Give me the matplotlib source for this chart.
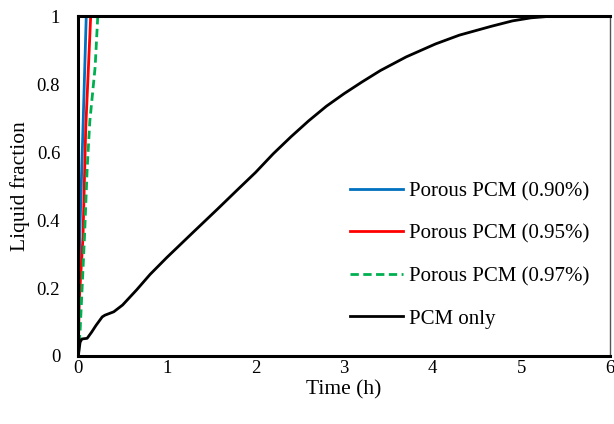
import matplotlib
matplotlib.use("Agg")
import matplotlib.pyplot as plt

plt.rcParams['font.family'] = ['Liberation Serif', 'DejaVu Serif']

# Liquid fraction vs. time for each configuration
t_090 = [0, 0.005, 0.016, 0.053, 0.09, 6]
lf_090 = [0, 0.15, 0.35, 0.67, 1.0, 1.0]

t_095 = [0, 0.01, 0.053, 0.084, 0.14, 6]
lf_095 = [0, 0.16, 0.35, 0.67, 1.0, 1.0]

t_097 = [0, 0.02, 0.07, 0.10, 0.13, 0.19, 0.22, 6]
lf_097 = [0, 0.07, 0.35, 0.55, 0.69, 0.85, 1.0, 1.0]

t_pcm = [0, 0.02, 0.04, 0.1, 0.15, 0.2, 0.27, 0.3, 0.35, 0.4, 0.5, 0.66,
         0.81, 1.0, 1.12, 1.3, 1.57, 1.8, 2.0, 2.2, 2.4, 2.6, 2.8, 3.0,
         3.2, 3.41, 3.7, 4.03, 4.3, 4.66, 4.9, 5.11, 5.3, 5.5, 6]
lf_pcm = [0, 0.04, 0.05, 0.052, 0.07, 0.09, 0.115, 0.12, 0.125, 0.13, 0.15,
          0.195, 0.24, 0.29, 0.32, 0.365, 0.432, 0.49, 0.54, 0.595, 0.645,
          0.692, 0.735, 0.772, 0.806, 0.84, 0.88, 0.918, 0.944, 0.97, 0.986,
          0.995, 0.999, 1.0, 1.0]

labels = ["Porous PCM (0.90%)", "Porous PCM (0.95%)",
          "Porous PCM (0.97%)", "PCM only"]
x_ticks = [0, 1, 2, 3, 4, 5, 6]
y_ticks = [0, 0.2, 0.4, 0.6, 0.8, 1.0]
y_tick_labels = ["0", "0.2", "0.4", "0.6", "0.8", "1"]

fig = plt.figure(figsize=(6.14, 4.24), dpi=100)
ax = fig.add_axes([0.1275, 0.1604, 0.866, 0.8016])

ax.plot(t_090, lf_090, color="#0070C0", lw=2.0, label=labels[0])
ax.plot(t_095, lf_095, color="#FF0000", lw=2.0, label=labels[1])
ax.plot(t_097, lf_097, color="#00B050", lw=2.0, ls=(0, (3, 1.6)), label=labels[2])
ax.plot(t_pcm, lf_pcm, color="black", lw=2.0, label=labels[3])

ax.set_xlim(0, 6)
ax.set_ylim(0, 1)
ax.set_xticks(x_ticks)
ax.set_xticklabels([str(v) for v in x_ticks])
ax.set_yticks(y_ticks)
ax.set_yticklabels(y_tick_labels)
ax.tick_params(length=0, labelsize=13.5)
ax.tick_params(axis="y", pad=13)
ax.tick_params(axis="x", pad=3)
ax.set_xlabel("Time (h)", fontsize=15.5, labelpad=2)
ax.set_ylabel("Liquid fraction", fontsize=15.5, labelpad=5)

for side in ("left", "bottom", "top"):
    ax.spines[side].set_linewidth(2.2)
    ax.spines[side].set_color("black")
ax.spines["right"].set_linewidth(1.0)
ax.spines["right"].set_color("#555555")

ax.legend(loc="center left", bbox_to_anchor=(0.496, 0.297), frameon=False,
          fontsize=15, handlelength=2.55, handletextpad=0.25, labelspacing=1.1,
          borderaxespad=0)

fig.savefig("out.png", dpi=100)
